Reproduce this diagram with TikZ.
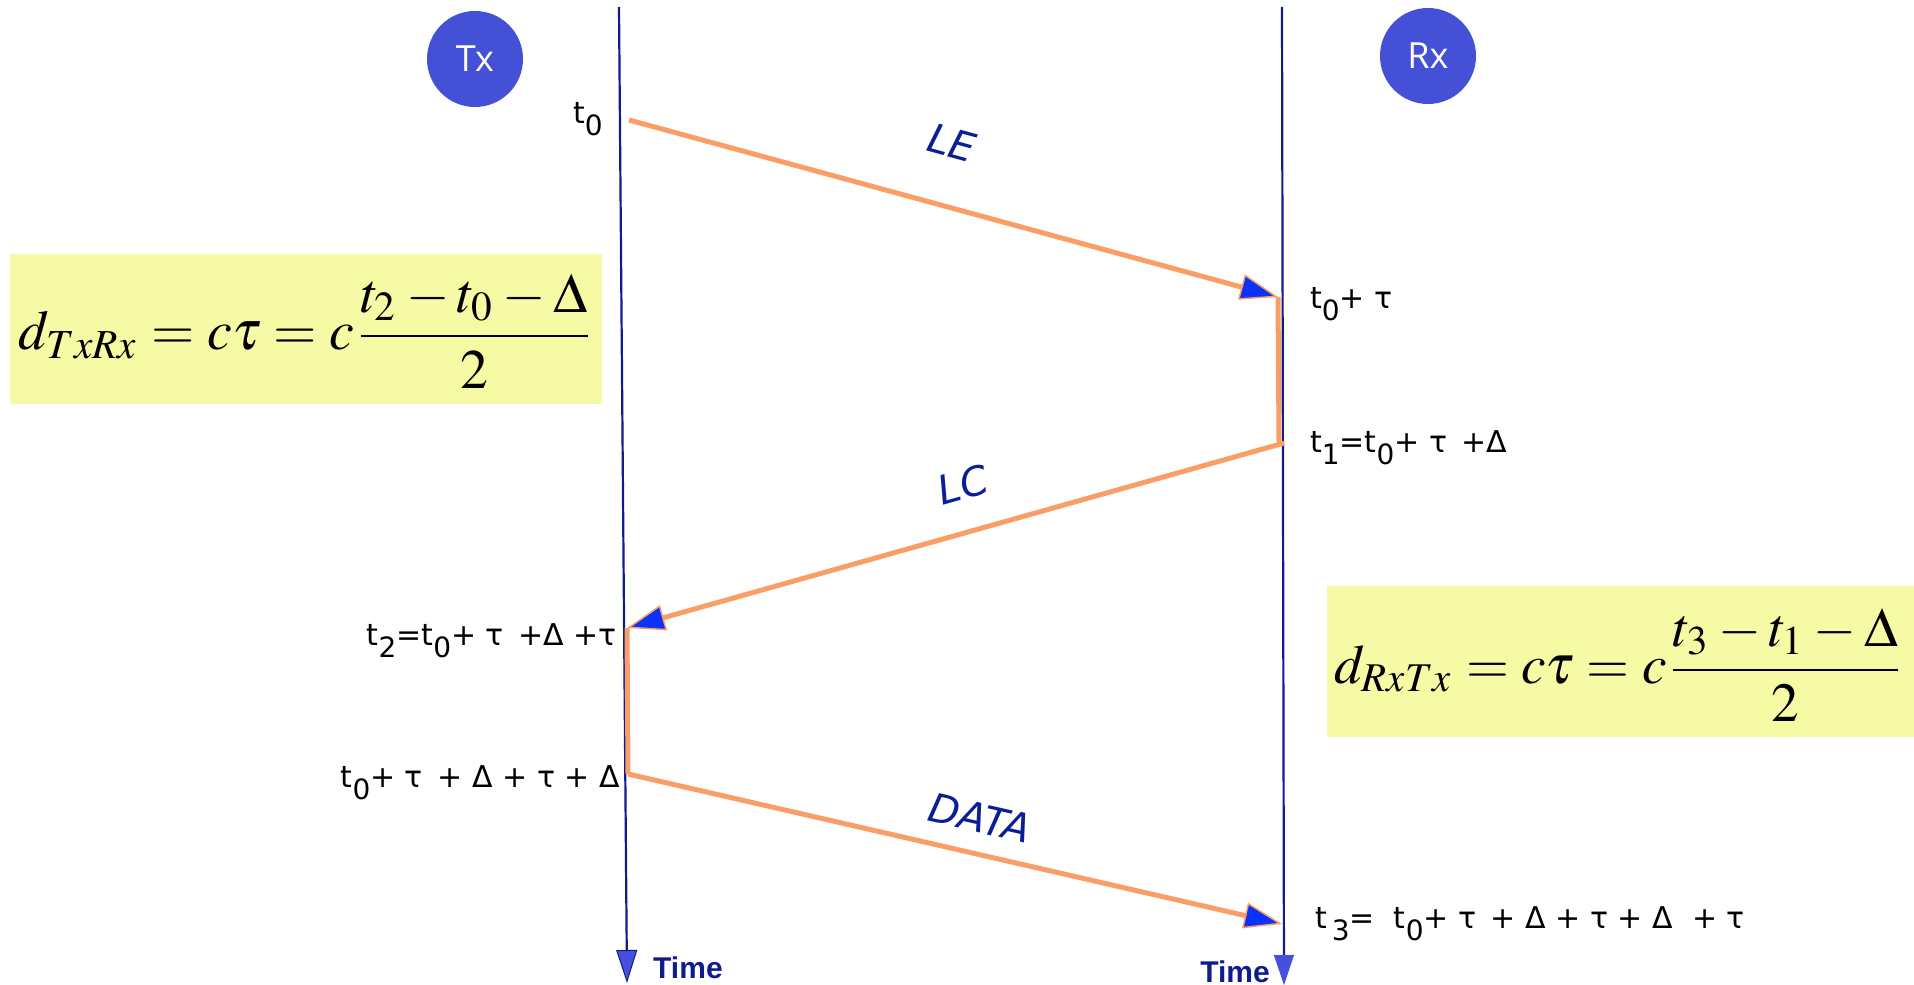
\documentclass[tikz,border=0pt]{standalone}
\usepackage{graphicx}
\usepackage{mathptmx}
\usepackage{fontspec}
\usetikzlibrary{arrows.meta}
\newfontfamily\labfont{DejaVu Sans}
\newfontfamily\circfont{Open Sans}
\newfontfamily\timefont{Liberation Sans}
\definecolor{navy}{HTML}{101C8C}
\definecolor{msgorange}{HTML}{FA9E68}
\definecolor{ablue}{HTML}{0A32FA}
\definecolor{tfill}{HTML}{4650DC}
\definecolor{circblue}{HTML}{4450D6}
\definecolor{labblue}{HTML}{0A1E96}
\definecolor{fyellow}{HTML}{F7FAA5}
\newcommand\sbs[1]{\raisebox{-0.4em}{\fontsize{28}{28}\selectfont #1}}
\tikzset{
  tline/.style={draw=navy, line width=2.2pt},
  msgline/.style={draw=msgorange, line width=5pt},
  msg/.style={msgline, -{Triangle[length=38pt,width=26pt,fill=ablue,color=msgorange,line width'=1.5pt]}},
  circ/.style={circle, fill=circblue, minimum size=96pt, inner sep=0pt, text=white, font=\circfont\fontsize{36}{40}\selectfont},
  lab/.style={inner sep=0pt, font=\labfont\fontsize{30}{36}\selectfont},
  msglab/.style={inner sep=0pt, text=labblue, font=\labfont\itshape\fontsize{40}{46}\selectfont},
  timelab/.style={inner sep=0pt, text=navy, font=\timefont\bfseries\fontsize{30}{36}\selectfont},
  fbox/.style={fill=fyellow, inner sep=0pt, anchor=north west},
  formula/.style={inner sep=0pt, anchor=west}
}
\begin{document}
\begin{tikzpicture}[x=1pt,y=-1pt]
\useasboundingbox (0,0) rectangle (1914,985);
% formula boxes
\node[fbox, minimum width=592pt, minimum height=150pt] (box1) at (10,254) {};
\node[fbox, minimum width=587pt, minimum height=151pt] (box2) at (1327,586) {};
\node[formula] (f1) at (18,331) {\resizebox{576pt}{!}{$\displaystyle d_{TxRx} = c\tau = c\frac{t_2 - t_0 - \Delta}{2}$}};
\node[formula] (f2) at (1334,665) {\resizebox{570pt}{!}{$\displaystyle d_{RxTx} = c\tau = c\frac{t_3 - t_1 - \Delta}{2}$}};
% stations
\node[circ] (tx) at (475,59) {Tx};
\node[circ] (rx) at (1428,56) {Rx};
% timelines
\coordinate (txtop) at (619,7);
\coordinate (txbot) at (627,983);
\coordinate (rxtop) at (1282,7);
\coordinate (rxbot) at (1284,985);
\draw[tline, -{Triangle[length=33pt,width=21pt,fill=tfill,color=navy,line width'=1pt]}] (txtop) -- (txbot);
\draw[tline, -{Triangle[length=30pt,width=20pt,fill=tfill,color=tfill,line width'=1pt]}] (rxtop) -- (rxbot);
% messages
\coordinate (a0) at (629,120);
\coordinate (a1) at (1278,297);
\coordinate (a2) at (1279,443);
\coordinate (a3) at (1284,443);
\coordinate (b1) at (627,628);
\coordinate (b2) at (628,774);
\coordinate (c1) at (1282,924);
\draw[msg] (a0) -- (a1);
\draw[msgline] (a1) -- (a2);
\draw[msg] (a3) -- (b1);
\draw[msgline] (b1) -- (b2);
\draw[msg] (b2) -- (c1);
\node[msglab, rotate=-15.3] (le) at (952,143) {LE};
\node[msglab, rotate=15.7] (lc) at (963,485) {LC};
\node[msglab, rotate=-12.9] (data) at (980,818) {DATA};
% time labels
\node[lab, anchor=base west] (t0) at (573,123) {t\sbs{0}};
\node[lab, anchor=base west] (r1) at (1310,308) {t\sbs{0}+ τ};
\node[lab, anchor=base west] (r2) at (1310,452) {t\sbs{1}=t\sbs{0}+ τ \,+Δ};
\node[lab, anchor=base east] (l1) at (617,645) {t\sbs{2}=t\sbs{0}+ τ \,+Δ +τ};
\node[lab, anchor=base east] (l2) at (620,787) {t\sbs{0}+ τ \,+ Δ + τ + Δ};
\node[lab, anchor=base west] (r3) at (1315,928) {t\,\sbs{3}=\ \ t\sbs{0}+ τ \,+ Δ + τ + Δ \ + τ};
\node[timelab, anchor=base west] (time1) at (653,978) {Time};
\node[timelab, anchor=base east] (time2) at (1270,982) {Time};
\end{tikzpicture}
\end{document}
